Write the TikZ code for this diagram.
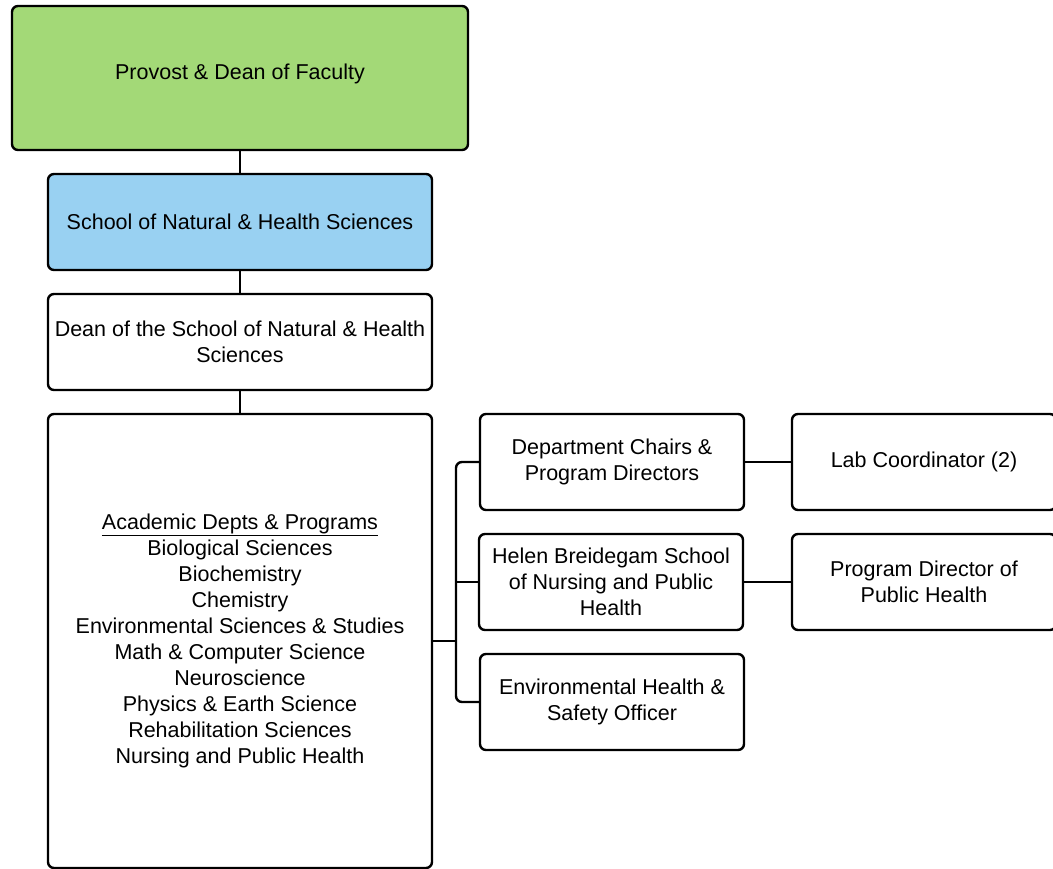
\documentclass[tikz,border=0pt]{standalone}
\usepackage{fontspec}
\setmainfont{Liberation Sans}
\definecolor{provgreen}{HTML}{A3D977}
\definecolor{schoolblue}{HTML}{99D1F2}
\tikzset{
  orgbox/.style={draw=black, line width=2.4pt, rounded corners=6pt, inner sep=0pt, align=center,
    font=\fontsize{21.5}{26}\selectfont, text=black},
  link/.style={draw=black, line width=2.4pt},
}
\begin{document}
\begin{tikzpicture}[x=1pt,y=-1pt]
\clip (0,0) rectangle (1053,869);
\fill[white] (0,0) rectangle (1053,869);
\node[orgbox, fill=provgreen, minimum width=456pt, minimum height=144pt] (prov) at (240,78) {};
\node[font=\fontsize{21.5}{26}\selectfont, inner sep=0pt] (provtext) at (240,74) {Provost \& Dean of Faculty};
\node[orgbox, fill=schoolblue, minimum width=384pt, minimum height=96pt] (school) at (240,222) {School of Natural \& Health Sciences};
\node[orgbox, fill=white, minimum width=384pt, minimum height=96pt] (dean) at (240,342) {Dean of the School of Natural \& Health\\Sciences};
\node[orgbox, fill=white, minimum width=384pt, minimum height=454pt] (acad) at (240,641) {\underline{Academic Depts \& Programs}\\Biological Sciences\\Biochemistry\\Chemistry\\Environmental Sciences \& Studies\\Math \& Computer Science\\Neuroscience\\Physics \& Earth Science\\Rehabilitation Sciences\\Nursing and Public Health};
\node[orgbox, fill=white, minimum width=264pt, minimum height=96pt] (dept) at (612,462) {Department Chairs \&\\Program Directors};
\node[orgbox, fill=white, minimum width=264pt, minimum height=96pt] (helen) at (611,582) {Helen Breidegam School\\of Nursing and Public\\Health};
\node[orgbox, fill=white, minimum width=264pt, minimum height=96pt] (ehs) at (612,702) {Environmental Health \&\\Safety Officer};
\node[orgbox, fill=white, minimum width=264pt, minimum height=96pt] (lab) at (924,462) {Lab Coordinator (2)};
\node[orgbox, fill=white, minimum width=264pt, minimum height=96pt] (pdir) at (924,582) {Program Director of\\Public Health};
\coordinate (bustop) at (456,462);
\coordinate (busbot) at (456,702);
\draw[link] (prov.south) -- (school.north);
\draw[link] (school.south) -- (dean.north);
\draw[link] (dean.south) -- (acad.north);
\draw[link, rounded corners=6pt] (dept.west) -- (bustop) -- (busbot) -- (ehs.west);
\draw[link] (acad.east) -- (acad.east -| bustop);
\draw[link] (helen.west) -- (helen.west -| bustop);
\draw[link] (dept.east) -- (lab.west);
\draw[link] (helen.east) -- (pdir.west);
\end{tikzpicture}
\end{document}
